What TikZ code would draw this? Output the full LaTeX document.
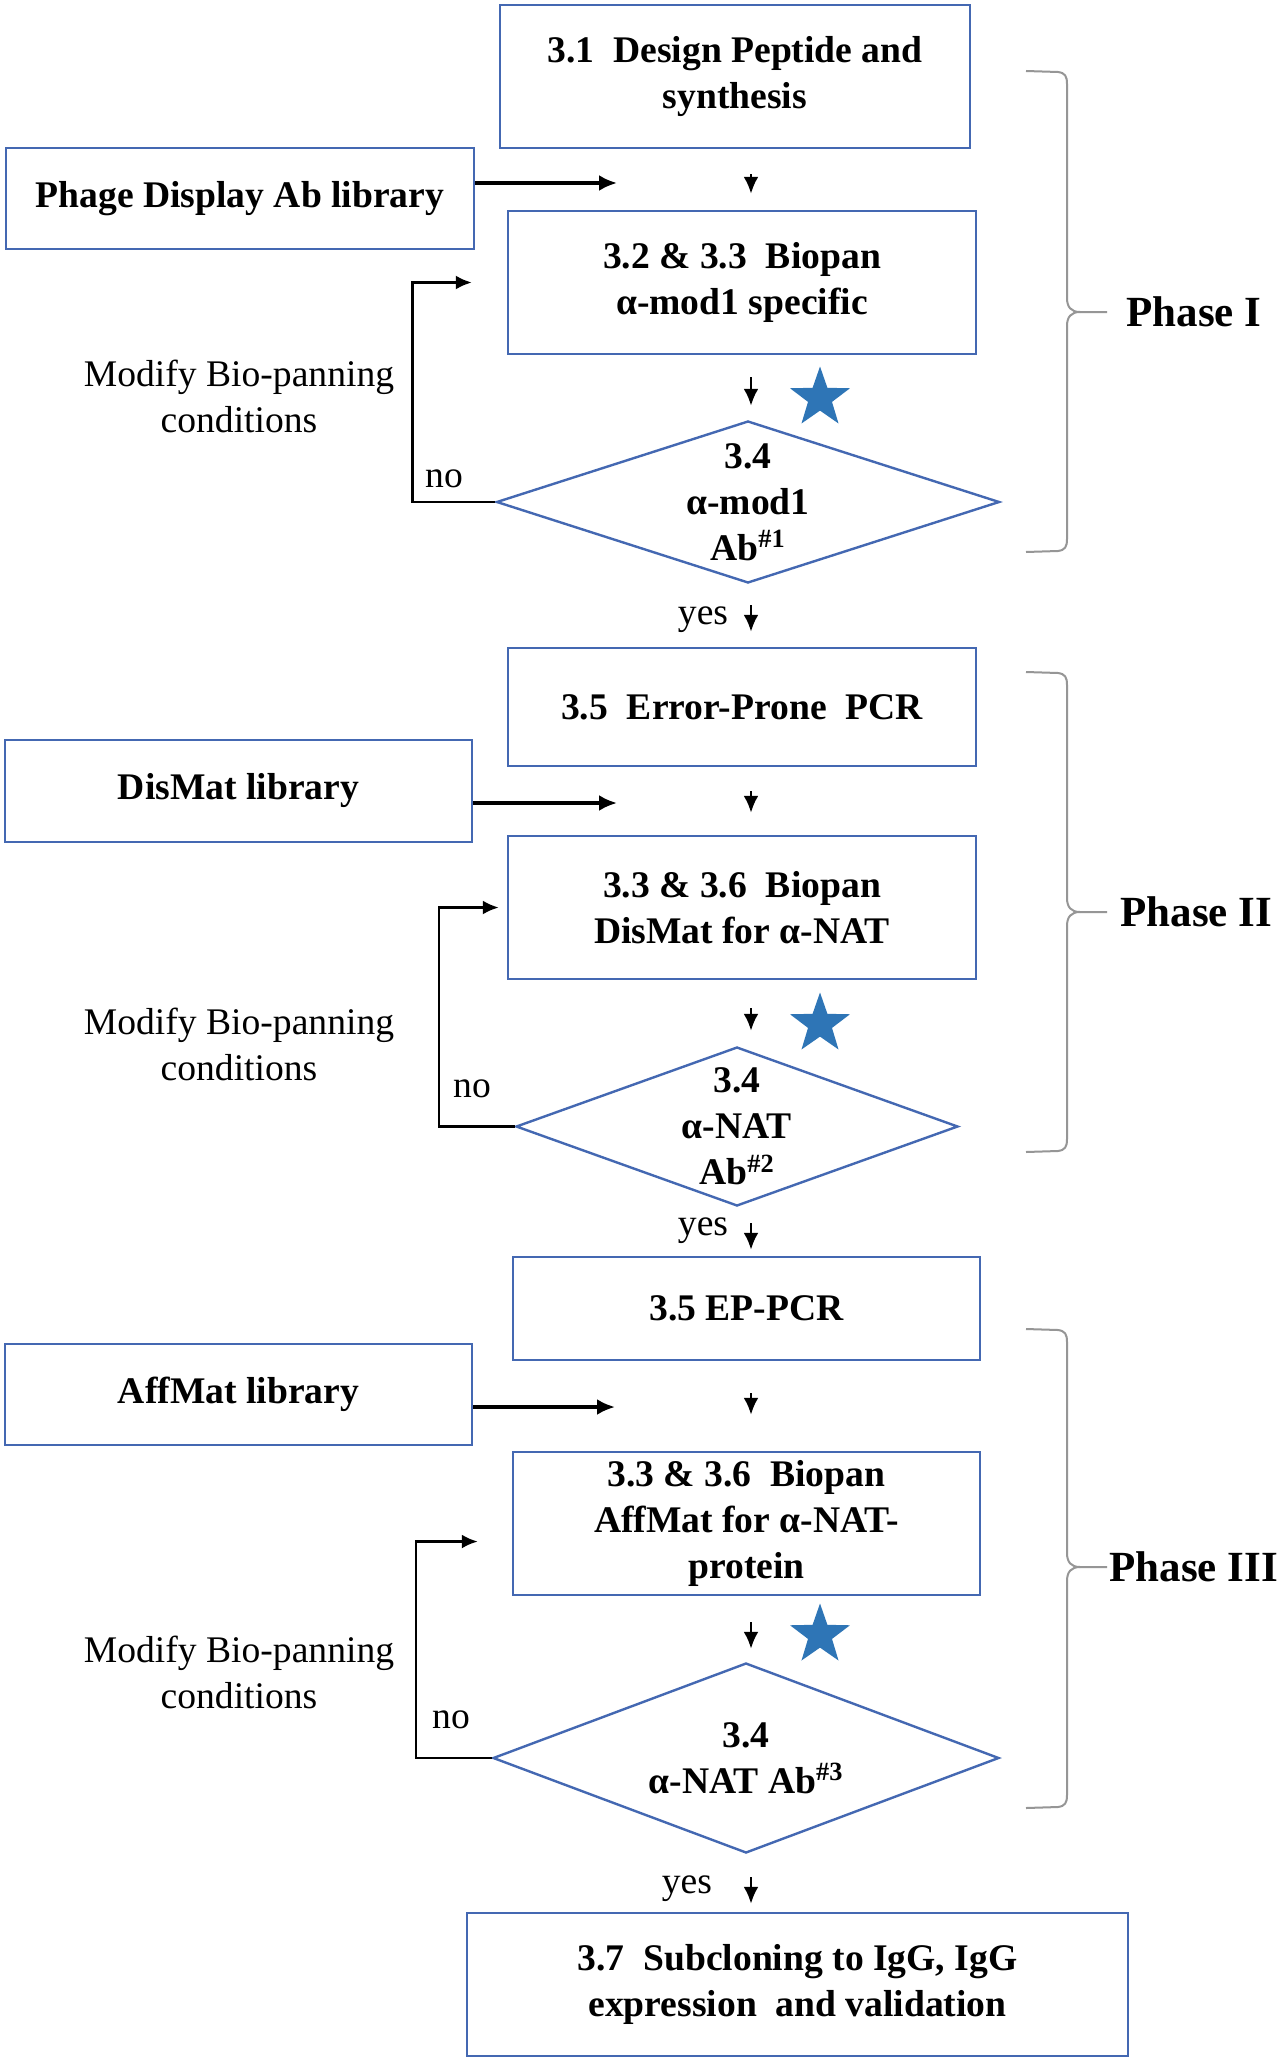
\documentclass[tikz,border=0pt]{standalone}
\usepackage{fontspec}
\setmainfont{Liberation Serif}
\usetikzlibrary{arrows.meta, shapes.geometric}
\definecolor{boxblue}{RGB}{68,104,178}
\definecolor{starblue}{RGB}{46,117,182}
\definecolor{bracegray}{RGB}{150,150,150}
% curly bracket on the right: top, tip and bottom heights
\newcommand{\phbrace}[3]{%
  \draw[bracegray, line width=1pt] (1026,#1) -- (1058,{#1+1}) .. controls (1065,{#1+2}) and (1067,{#1+5}) .. (1067,{#1+13})
    -- (1067,{#2-14}) .. controls (1067,{#2-5}) and (1071,#2) .. (1080,#2) -- (1107,#2);
  \draw[bracegray, line width=1pt] (1080,#2) .. controls (1071,#2) and (1067,{#2+5}) .. (1067,{#2+14})
    -- (1067,{#3-13}) .. controls (1067,{#3-5}) and (1065,{#3-2}) .. (1058,{#3-1}) -- (1026,#3);
}

\begin{document}
\begin{tikzpicture}[x=0.5pt, y=-0.5pt,
  stepbox/.style={draw=boxblue, line width=1.2pt, align=center, inner sep=0pt,
    font=\bfseries\fontsize{18.8}{23}\selectfont},
  decide/.style={diamond, draw=boxblue, line width=1.2pt, inner sep=0pt},
  dtext/.style={align=center, inner sep=0pt, font=\bfseries\fontsize{18.8}{23}\selectfont},
  note/.style={align=center, inner sep=0pt, font=\fontsize{18.8}{23}\selectfont},
  phase/.style={anchor=west, inner sep=0pt, font=\bfseries\fontsize{21.5}{26}\selectfont},
  mark star/.style={star, star points=5, star point ratio=2.5, fill=starblue, inner sep=0pt, minimum size=31.5pt},
  down/.style={-{Latex[length=8.5pt,width=7.5pt]}, line width=1.4pt},
  feed/.style={-{Latex[length=9pt,width=8pt]}, line width=1.7pt},
  back/.style={-{Latex[length=8pt,width=7pt]}, line width=1.3pt}]
\path[use as bounding box, fill=white] (0,0) rectangle (1284,2060);

% Phase I
\node[stepbox, minimum width=235pt, minimum height=71.5pt] (design) at (735,76.5) {3.1~~Design Peptide and\\synthesis};
\node[stepbox, minimum width=234pt, minimum height=50.5pt] (phage) at (240,198.5) {Phage Display Ab library};
\node[stepbox, minimum width=234pt, minimum height=71.5pt] (biopan1) at (742,282.5) {3.2 \& 3.3~~Biopan\\α-mod1 specific};
\node[decide, minimum width=251.5pt, minimum height=81pt] (chk1) at (748,502) {};
\node[dtext] (chk1txt) at (chk1.center) {3.4\\α-mod1\\Ab\textsuperscript{\#1}};
\node[mark star] (star1) at (820,398) {};
\node[note] (mod1) at (239,396) {Modify Bio-panning\\conditions};
\node[note] (no1) at (444,479) {no};
\node[note] (yes1) at (703,620) {yes};
\node[phase] (ph1) at (1126,312) {Phase I};

% Phase II
\node[stepbox, minimum width=234pt, minimum height=59pt] (epcr) at (742,707) {3.5~~Error-Prone~~PCR};
\node[stepbox, minimum width=233.5pt, minimum height=51pt] (dismat) at (238.5,791) {DisMat library};
\node[stepbox, minimum width=234pt, minimum height=71.5pt] (biopan2) at (742,907.5) {3.3 \& 3.6~~Biopan\\DisMat for α-NAT};
\node[decide, minimum width=221pt, minimum height=79.5pt] (chk2) at (737,1126.5) {};
\node[dtext] (chk2txt) at (chk2.center) {3.4\\α-NAT\\Ab\textsuperscript{\#2}};
\node[mark star] (star2) at (820,1024) {};
\node[note] (mod2) at (239,1044) {Modify Bio-panning\\conditions};
\node[note] (no2) at (472,1089) {no};
\node[note] (yes2) at (703,1231) {yes};
\node[phase] (ph2) at (1120,912) {Phase II};

% Phase III
\node[stepbox, minimum width=233.5pt, minimum height=51.5pt] (eppcr) at (746.5,1308.5) {3.5 EP-PCR};
\node[stepbox, minimum width=233.5pt, minimum height=50.5pt] (affmat) at (238.5,1394.5) {AffMat library};
\node[stepbox, minimum width=233.5pt, minimum height=71.5pt] (biopan3) at (746.5,1523.5) {3.3 \& 3.6~~Biopan\\AffMat for α-NAT-\\protein};
\node[decide, minimum width=253pt, minimum height=95pt] (chk3) at (746,1758) {};
\node[dtext] (chk3txt) at (chk3.center) {3.4\\α-NAT Ab\textsuperscript{\#3}};
\node[mark star] (star3) at (820,1635) {};
\node[note] (mod3) at (239,1672) {Modify Bio-panning\\conditions};
\node[note] (no3) at (451,1720) {no};
\node[note] (yes3) at (687,1889) {yes};
\node[phase] (ph3) at (1109,1567) {Phase III};

\node[stepbox, minimum width=330.5pt, minimum height=71.5pt] (subclone) at (797.5,1984.5) {3.7~~Subcloning to IgG, IgG\\expression~~and validation};

% arrows down the middle
\coordinate (ax) at (751,0);
\draw[down, shorten <=12.5pt, shorten >=8pt] (design.south -| ax) -- (biopan1.north -| ax);
\draw[down, shorten <=11pt, shorten >=7pt] (biopan1.south -| ax) -- (chk1.north -| ax);
\draw[down, shorten <=10.5pt, shorten >=7.5pt] (chk1.south -| ax) -- (epcr.north -| ax);
\draw[down, shorten <=12pt, shorten >=11pt] (epcr.south -| ax) -- (biopan2.north -| ax);
\draw[down, shorten <=14pt, shorten >=7.5pt] (biopan2.south -| ax) -- (chk2.north -| ax);
\draw[down, shorten <=8pt, shorten >=3pt] (chk2.south -| ax) -- (eppcr.north -| ax);
\draw[down, shorten <=16pt, shorten >=18pt] (eppcr.south -| ax) -- (biopan3.north -| ax);
\draw[down, shorten <=13pt, shorten >=6.5pt] (biopan3.south -| ax) -- (chk3.north -| ax);
\draw[down, shorten <=11.5pt, shorten >=4pt] (chk3.south -| ax) -- (subclone.north -| ax);

% libraries fed in
\coordinate (in1) at (617,183);
\coordinate (in2) at (617,803);
\coordinate (in3) at (615,1407);
\draw[feed] (phage.east |- in1) -- (in1);
\draw[feed] (dismat.east |- in2) -- (in2);
\draw[feed] (affmat.east |- in3) -- (in3);

% back to bio-panning
\draw[back, shorten >=17.5pt] (chk1.west) -- ++(-83,0) |- (biopan1.west);
\draw[back, shorten >=4pt] (chk2.west) -- ++(-76,0) |- (biopan2.west);
\draw[back, shorten >=17pt] (chk3.west) -- ++(-76,0) |- ([yshift=-9pt]biopan3.west);

% phases
\phbrace{71}{312}{552}
\phbrace{672}{912}{1152}
\phbrace{1329}{1567}{1808}
\end{tikzpicture}
\end{document}
